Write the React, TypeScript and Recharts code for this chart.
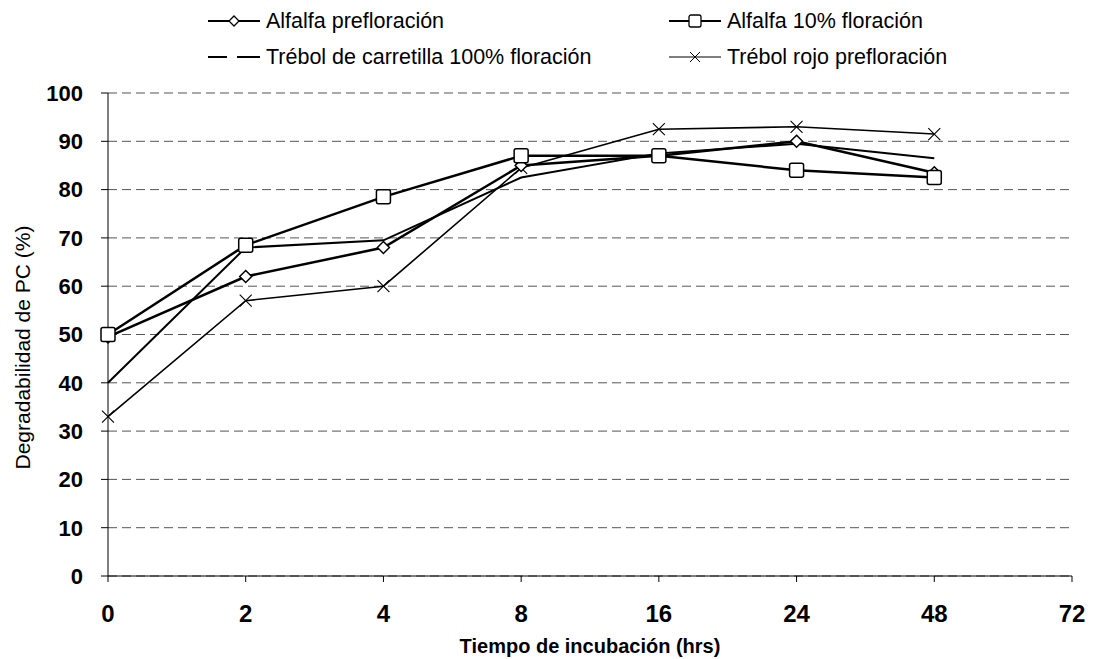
import React from 'react';
import { LineChart, Line, XAxis, YAxis, CartesianGrid } from 'recharts';

const HOURS = ['0', '2', '4', '8', '16', '24', '48', '72'];
const ALFALFA_PRE = [49.5, 62, 68, 85, 87, 90, 83.5, null];
const ALFALFA_10 = [50, 68.5, 78.5, 87, 87, 84, 82.5, null];
const CARRETILLA = [40, 68, 69.5, 82.5, 87.5, 89.5, 86.5, null];
const ROJO = [33, 57, 60, 84.5, 92.5, 93, 91.5, null];
const Y_TICKS = [0, 10, 20, 30, 40, 50, 60, 70, 80, 90, 100];

const data = HOURS.map((h, i) => ({
  h,
  pre: ALFALFA_PRE[i],
  f10: ALFALFA_10[i],
  carr: CARRETILLA[i],
  rojo: ROJO[i],
}));

const FONT = '"Liberation Sans", Arial, sans-serif';

const diamondDot = (p: any) => {
  if (p.cy == null || p.value == null) return <g key={p.key} />;
  const { cx, cy } = p;
  return (
    <path key={p.key} d={`M${cx},${cy - 6}L${cx + 6},${cy}L${cx},${cy + 6}L${cx - 6},${cy}Z`}
      fill="#fff" stroke="#000" strokeWidth={1.5} />
  );
};

const squareDot = (p: any) => {
  if (p.cy == null || p.value == null) return <g key={p.key} />;
  const { cx, cy } = p;
  return <rect key={p.key} x={cx - 7} y={cy - 7} width={14} height={14} rx={2}
    fill="#fff" stroke="#000" strokeWidth={1.5} />;
};

const crossDot = (p: any) => {
  if (p.cy == null || p.value == null) return <g key={p.key} />;
  const { cx, cy } = p;
  return (
    <path key={p.key} d={`M${cx - 6},${cy - 6}L${cx + 6},${cy + 6}M${cx + 6},${cy - 6}L${cx - 6},${cy + 6}`}
      stroke="#000" strokeWidth={1.1} fill="none" />
  );
};

const LegendItem = ({ x, y, kind, label }: { x: number; y: number; kind: string; label: string }) => (
  <div style={{ position: 'absolute', left: x, top: y, display: 'flex', alignItems: 'center', fontFamily: FONT, fontSize: 21.5, color: '#000', whiteSpace: 'nowrap', lineHeight: '24px' }}>
    <svg width={54} height={16} style={{ marginRight: 5 }}>
      {kind === 'carr' ? (
        <path d="M1,8H20M30,8H53" stroke="#000" strokeWidth={2} />
      ) : (
        <path d="M1,8H53" stroke="#000" strokeWidth={kind === 'rojo' ? 1.2 : 2} />
      )}
      {kind === 'pre' && <path d="M27,3L32,8L27,13L22,8Z" fill="#fff" stroke="#000" strokeWidth={1.3} />}
      {kind === 'f10' && <rect x={21} y={2} width={12} height={12} rx={2} fill="#fff" stroke="#000" strokeWidth={1.3} />}
      {kind === 'rojo' && <path d="M22,3L32,13M32,3L22,13" stroke="#000" strokeWidth={1} />}
    </svg>
    <span>{label}</span>
  </div>
);

export default function App() {
  return (
    <div style={{ position: 'relative', width: 1105, height: 659, background: '#fff' }}>
      <style>{`body{margin:0}`}</style>
      <LegendItem x={207} y={9} kind="pre" label="Alfalfa prefloración" />
      <LegendItem x={668} y={9} kind="f10" label="Alfalfa 10% floración" />
      <LegendItem x={207} y={45} kind="carr" label="Trébol de carretilla 100% floración" />
      <LegendItem x={668} y={45} kind="rojo" label="Trébol rojo prefloración" />
      <LineChart width={1105} height={659} data={data} margin={{ top: 93, right: 33, bottom: 0, left: 0 }}>
        <CartesianGrid vertical={false} stroke="#555" strokeDasharray="9 5" />
        <XAxis dataKey="h" type="category" height={83} axisLine={{ stroke: '#000' }} tickLine={{ stroke: '#000' }}
          tickSize={6} tickMargin={23}
          tick={{ fill: '#000', fontSize: 24, fontWeight: 700, fontFamily: FONT }}
          label={{ value: 'Tiempo de incubación (hrs)', position: 'insideBottom', offset: 6, fill: '#000', fontSize: 20, fontFamily: FONT, fontWeight: 700 }} />
        <YAxis domain={[0, 100]} ticks={Y_TICKS} width={108} interval={0} axisLine={{ stroke: '#000' }} tickLine={{ stroke: '#000' }}
          tickSize={7} tickMargin={18}
          tick={{ fill: '#000', fontSize: 22, fontWeight: 700, fontFamily: FONT }}
          label={{ value: 'Degradabilidad de PC (%)', angle: -90, position: 'center', dx: -31, dy: 13, fill: '#000', fontSize: 21, fontFamily: FONT }} />
        <Line dataKey="rojo" stroke="#000" strokeWidth={1.6} dot={crossDot} isAnimationActive={false} />
        <Line dataKey="carr" stroke="#000" strokeWidth={2} dot={false} isAnimationActive={false} />
        <Line dataKey="pre" stroke="#000" strokeWidth={2.5} dot={diamondDot} isAnimationActive={false} />
        <Line dataKey="f10" stroke="#000" strokeWidth={2.5} dot={squareDot} isAnimationActive={false} />
      </LineChart>
    </div>
  );
}
